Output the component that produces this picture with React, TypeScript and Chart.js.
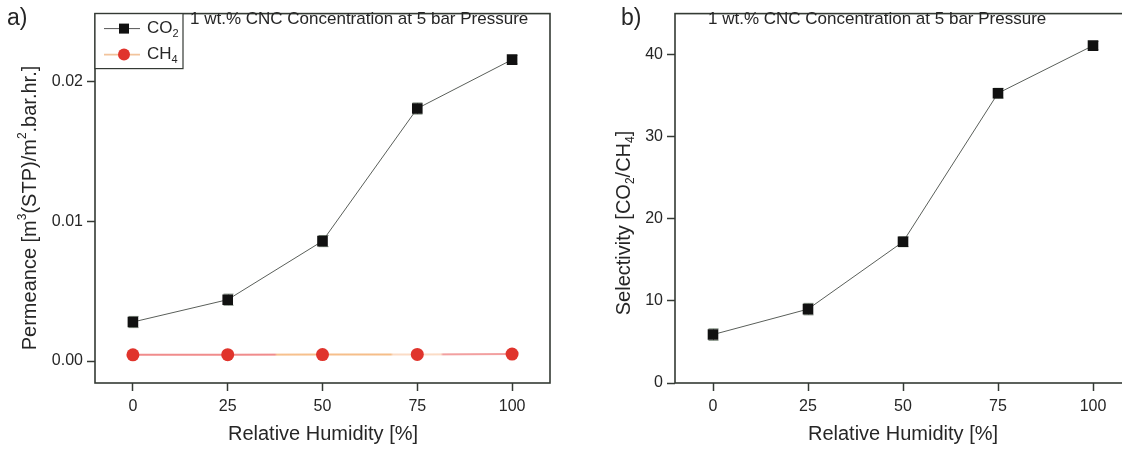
import React, { useEffect, useRef } from "react";
import { Chart, registerables } from "chart.js";

Chart.register(...registerables);

// ---------- data ----------
const humidity = [0, 25, 50, 75, 100];
const co2Permeance = [0.0028, 0.0044, 0.0086, 0.0181, 0.0216];
const co2PermeanceErr = [0.0004, 0.0004, 0.0004, 0.0004, 0.0003];
const ch4Permeance = [0.00045, 0.00046, 0.00047, 0.00048, 0.0005];
const ch4PermeanceErr = [0, 0, 0, 0, 0];
const selectivity = [5.9, 9.0, 17.2, 35.3, 41.1];
const selectivityErr = [0.7, 0.7, 0.6, 0.6, 0.5];

const xTickValues = [0, 25, 50, 75, 100];
const xTickLabels = ["0", "25", "50", "75", "100"];
const permeanceTickValues = [0, 0.01, 0.02];
const permeanceTickLabels = ["0.00", "0.01", "0.02"];
const selectivityTickValues = [0, 10, 20, 30, 40];
const selectivityTickLabels = ["0", "10", "20", "30", "40"];

const noteText = "1 wt.% CNC Concentration at 5 bar Pressure";
const xTitle = "Relative Humidity [%]";
const seriesNames = ["CO", "CH"];

const FONT = '"Liberation Sans", Arial, sans-serif';
const TEXT = "#262626";
const AXIS = "#343a34";

type Part = { t: string; s?: "sub" | "sup" };

function drawRich(ctx: CanvasRenderingContext2D, parts: Part[], x: number, y: number, size: number, align: "left" | "center") {
  const small = Math.round(size * 0.62);
  let total = 0;
  for (const p of parts) {
    ctx.font = `${p.s ? small : size}px ${FONT}`;
    total += ctx.measureText(p.t).width;
  }
  let cx = align === "center" ? x - total / 2 : x;
  ctx.textBaseline = "middle";
  ctx.textAlign = "left";
  for (const p of parts) {
    ctx.font = `${p.s ? small : size}px ${FONT}`;
    const dy = p.s === "sub" ? size * 0.32 : p.s === "sup" ? -size * 0.36 : 0;
    ctx.fillText(p.t, cx, y + dy);
    cx += ctx.measureText(p.t).width;
  }
}

type DecorCfg = {
  panel: string; panelX: number; panelY: number;
  yTitle: Part[]; yTitleX: number; yTitleY: number;
  xTitleX: number; xTitleY: number;
  noteX: number; noteY: number;
  legend: boolean;
  errors: number[][];
};

function makeDecor(cfg: DecorCfg) {
  return {
    id: "decor",
    beforeDatasetsDraw(chart: any) {
      const ctx = chart.ctx as CanvasRenderingContext2D;
      const xs = chart.scales.x, ys = chart.scales.y;
      ctx.save();
      ctx.strokeStyle = "#7f8c7f";
      ctx.lineWidth = 1;
      chart.data.datasets.forEach((ds: any, i: number) => {
        const errs = cfg.errors[i];
        if (!errs) return;
        ds.data.forEach((pt: any, j: number) => {
          const e = errs[j];
          if (!e) return;
          const px = Math.round(xs.getPixelForValue(pt.x)) + 0.5;
          const y1 = ys.getPixelForValue(pt.y + e);
          const y2 = ys.getPixelForValue(pt.y - e);
          ctx.beginPath();
          ctx.moveTo(px, y1); ctx.lineTo(px, y2);
          ctx.moveTo(px - 5, y1); ctx.lineTo(px + 5, y1);
          ctx.moveTo(px - 5, y2); ctx.lineTo(px + 5, y2);
          ctx.stroke();
        });
      });
      ctx.restore();
    },
    afterDraw(chart: any) {
      const ctx = chart.ctx as CanvasRenderingContext2D;
      const ca = chart.chartArea;
      ctx.save();
      // frame
      ctx.strokeStyle = AXIS;
      ctx.lineWidth = 1.6;
      ctx.strokeRect(ca.left, ca.top, ca.right - ca.left, ca.bottom - ca.top);
      ctx.fillStyle = TEXT;
      // panel label
      ctx.font = `23px ${FONT}`;
      ctx.textAlign = "left";
      ctx.textBaseline = "middle";
      ctx.fillText(cfg.panel, cfg.panelX, cfg.panelY);
      // note
      ctx.font = `17px ${FONT}`;
      ctx.fillText(noteText, cfg.noteX, cfg.noteY);
      // x title
      ctx.font = `20px ${FONT}`;
      ctx.textAlign = "center";
      ctx.fillText(xTitle, cfg.xTitleX, cfg.xTitleY);
      // y title
      ctx.save();
      ctx.translate(cfg.yTitleX, cfg.yTitleY);
      ctx.rotate(-Math.PI / 2);
      drawRich(ctx, cfg.yTitle, 0, 0, 20, "center");
      ctx.restore();
      // legend
      if (cfg.legend) {
        const bx = ca.left, by = ca.top;
        ctx.strokeStyle = AXIS;
        ctx.lineWidth = 1.2;
        ctx.fillStyle = "#ffffff";
        ctx.fillRect(bx, by, 88, 55);
        ctx.strokeRect(bx, by, 88, 55);
        // CO2
        ctx.strokeStyle = "#555";
        ctx.lineWidth = 1;
        ctx.beginPath(); ctx.moveTo(bx + 9, by + 15); ctx.lineTo(bx + 45, by + 15); ctx.stroke();
        ctx.fillStyle = "#111";
        ctx.fillRect(bx + 24, by + 10, 10, 10);
        // CH4
        ctx.strokeStyle = "#f2c49c";
        ctx.lineWidth = 1.6;
        ctx.beginPath(); ctx.moveTo(bx + 9, by + 41); ctx.lineTo(bx + 45, by + 41); ctx.stroke();
        ctx.fillStyle = "#e0342c";
        ctx.beginPath(); ctx.arc(bx + 29, by + 41, 6, 0, Math.PI * 2); ctx.fill();
        ctx.fillStyle = TEXT;
        drawRich(ctx, [{ t: seriesNames[0] }, { t: "2", s: "sub" }], bx + 52, by + 15, 17, "left");
        drawRich(ctx, [{ t: seriesNames[1] }, { t: "4", s: "sub" }], bx + 52, by + 41, 17, "left");
      }
      ctx.restore();
    },
  };
}

function axisOptions(min: number, max: number, tickValues: number[], tickLabels: string[], fixedSize: number, isX: boolean) {
  return {
    type: "linear",
    min,
    max,
    afterBuildTicks: (scale: any) => {
      scale.ticks = tickValues.map((v) => ({ value: v }));
    },
    afterFit: (scale: any) => {
      if (isX) scale.height = fixedSize;
      else scale.width = fixedSize;
    },
    ticks: {
      autoSkip: false,
      maxRotation: 0,
      padding: isX ? 6 : 4,
      color: TEXT,
      font: { family: FONT, size: 16 },
      callback: (v: number) => {
        const i = tickValues.findIndex((t) => Math.abs(t - v) < 1e-9);
        return i >= 0 ? tickLabels[i] : "";
      },
    },
    grid: {
      display: true,
      drawOnChartArea: false,
      drawTicks: true,
      tickLength: 8,
      tickColor: AXIS,
      tickWidth: 1.5,
    },
    border: { display: false },
  };
}

function ch4Gradient(ctx: any) {
  const chart = ctx.chart;
  const ca = chart.chartArea;
  if (!ca) return "#f09090";
  const g = chart.ctx.createLinearGradient(ca.left, 0, ca.right, 0);
  g.addColorStop(0, "#f08c8c");
  g.addColorStop(0.395, "#f08c8c");
  g.addColorStop(0.4, "#f7c18e");
  g.addColorStop(0.65, "#f5bd88");
  g.addColorStop(0.655, "#fbdcc6");
  g.addColorStop(0.76, "#fbdcc6");
  g.addColorStop(0.765, "#f2a0a0");
  g.addColorStop(1, "#f2a0a0");
  return g;
}

function ChartCanvas({ width, left, build }: { width: number; left: number; build: (c: HTMLCanvasElement) => Chart }) {
  const ref = useRef<HTMLCanvasElement | null>(null);
  useEffect(() => {
    if (!ref.current) return;
    const chart = build(ref.current);
    return () => chart.destroy();
  }, []);
  return (
    <canvas
      ref={ref}
      width={width}
      height={449}
      style={{ position: "absolute", left, top: 0, width, height: 449, display: "block" }}
    />
  );
}

function buildLeft(canvas: HTMLCanvasElement) {
  return new Chart(canvas, {
    type: "line",
    data: {
      datasets: [
        {
          label: "CO2",
          data: humidity.map((x, i) => ({ x, y: co2Permeance[i] })),
          borderColor: "#5a5f5a",
          borderWidth: 1,
          pointStyle: "rect",
          pointRadius: 7.5,
          pointBackgroundColor: "#111",
          pointBorderColor: "#111",
          pointBorderWidth: 0,
          tension: 0,
        },
        {
          label: "CH4",
          data: humidity.map((x, i) => ({ x, y: ch4Permeance[i] })),
          borderColor: ch4Gradient as any,
          borderWidth: 2,
          pointStyle: "circle",
          pointRadius: 6.5,
          pointBackgroundColor: "#e0342c",
          pointBorderColor: "#e0342c",
          pointBorderWidth: 0,
          tension: 0,
        },
      ],
    },
    options: {
      responsive: false,
      animation: false,
      events: [],
      layout: { padding: { top: 11, right: 10, left: 0, bottom: 0 } },
      plugins: { legend: { display: false }, tooltip: { enabled: false } },
      scales: {
        x: axisOptions(-10, 110, xTickValues, xTickLabels, 66, true),
        y: axisOptions(-0.00157, 0.0249, permeanceTickValues, permeanceTickLabels, 95, false),
      } as any,
    },
    plugins: [
      makeDecor({
        panel: "a)", panelX: 7, panelY: 19,
        yTitle: [{ t: "Permeance [m" }, { t: "3", s: "sup" }, { t: "(STP)/m" }, { t: "2", s: "sup" }, { t: ".bar.hr.]" }],
        yTitleX: 30, yTitleY: 208,
        xTitleX: 323, xTitleY: 434,
        noteX: 190, noteY: 19,
        legend: true,
        errors: [co2PermeanceErr, ch4PermeanceErr],
      }) as any,
    ],
  } as any);
}

function buildRight(canvas: HTMLCanvasElement) {
  return new Chart(canvas, {
    type: "line",
    data: {
      datasets: [
        {
          label: "Selectivity",
          data: humidity.map((x, i) => ({ x, y: selectivity[i] })),
          borderColor: "#5a5f5a",
          borderWidth: 1,
          pointStyle: "rect",
          pointRadius: 7.5,
          pointBackgroundColor: "#111",
          pointBorderColor: "#111",
          pointBorderWidth: 0,
          tension: 0,
        },
      ],
    },
    options: {
      responsive: false,
      animation: false,
      events: [],
      layout: { padding: { top: 12, right: 29, left: 0, bottom: 0 } },
      plugins: { legend: { display: false }, tooltip: { enabled: false } },
      scales: {
        x: axisOptions(-10, 110, xTickValues, xTickLabels, 66, true),
        y: axisOptions(0, 45, selectivityTickValues, selectivityTickLabels, 115, false),
      } as any,
    },
    plugins: [
      makeDecor({
        panel: "b)", panelX: 61, panelY: 19,
        yTitle: [{ t: "Selectivity [CO" }, { t: "2", s: "sub" }, { t: "/CH" }, { t: "4", s: "sub" }, { t: "]" }],
        yTitleX: 64, yTitleY: 223,
        xTitleX: 343, xTitleY: 434,
        noteX: 148, noteY: 19,
        legend: false,
        errors: [selectivityErr],
      }) as any,
    ],
  } as any);
}

export default function App() {
  return (
    <div
      style={{
        position: "absolute",
        left: 0,
        top: 0,
        width: 1122,
        height: 449,
        overflow: "hidden",
        background: "#ffffff",
      }}
    >
      <ChartCanvas width={560} left={0} build={buildLeft} />
      <ChartCanvas width={600} left={560} build={buildRight} />
    </div>
  );
}
